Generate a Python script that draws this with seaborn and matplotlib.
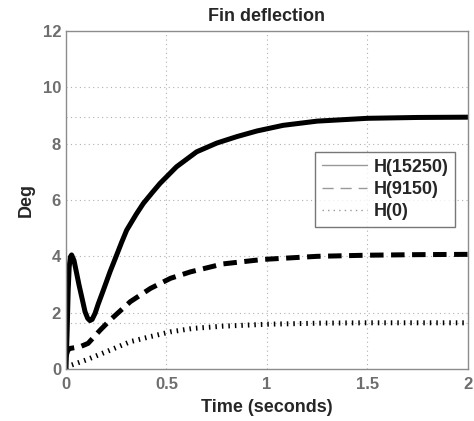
import numpy as np
import pandas as pd
import matplotlib.pyplot as plt
import seaborn as sns

# values
t_15250 = [0, 0.006, 0.011, 0.016, 0.022, 0.028, 0.04, 0.053, 0.065, 0.078, 0.095,
           0.108, 0.119, 0.13, 0.145, 0.16, 0.186, 0.219, 0.244, 0.277, 0.302, 0.35,
           0.385, 0.43, 0.468, 0.55, 0.65, 0.75, 0.85, 0.95, 1.08, 1.25, 1.5, 1.75, 2.0]
h_15250 = [0, 1.4, 2.8, 3.63, 3.98, 4.05, 3.85, 3.4, 2.98, 2.57, 2.03,
           1.8, 1.72, 1.76, 1.98, 2.3, 2.8, 3.45, 3.9, 4.5, 4.93, 5.5,
           5.88, 6.27, 6.59, 7.18, 7.71, 8.02, 8.25, 8.45, 8.65, 8.8, 8.9, 8.93, 8.94]

t_9150 = [0, 0.01, 0.02, 0.07, 0.11, 0.17, 0.22, 0.32, 0.42, 0.52, 0.62, 0.78,
          0.98, 1.25, 1.5, 1.75, 2.0]
h_9150 = [0.45, 0.68, 0.73, 0.79, 0.91, 1.38, 1.74, 2.39, 2.86, 3.22, 3.45, 3.73,
          3.89, 4.0, 4.04, 4.06, 4.07]

t_0 = [0, 0.011, 0.1, 0.22, 0.32, 0.42, 0.52, 0.63, 0.78, 1.0, 1.28, 1.5, 2.0]
h_0 = [0.05, 0.1, 0.32, 0.67, 0.97, 1.15, 1.32, 1.44, 1.52, 1.59, 1.63, 1.64, 1.64]

names = ['H(15250)', 'H(9150)', 'H(0)']
final_lines = [8.93, 1.64]

df = pd.concat([
    pd.DataFrame({'t': t_15250, 'deg': h_15250, 'series': names[0]}),
    pd.DataFrame({'t': t_9150, 'deg': h_9150, 'series': names[1]}),
    pd.DataFrame({'t': t_0, 'deg': h_0, 'series': names[2]}),
])

sns.set_style('white')
plt.rcParams['font.family'] = ['Liberation Sans', 'DejaVu Sans']
plt.rcParams['font.weight'] = 'bold'

fig, ax = plt.subplots(figsize=(4.74, 4.21), dpi=100)
fig.subplots_adjust(left=0.1392, right=0.9873, top=0.9264, bottom=0.1235)

grey = '#8c8c8c'
grid_kw = dict(color='#b0b0b0', lw=0.8, ls=(0, (1, 3)), zorder=0)

sns.lineplot(data=df, x='t', y='deg', hue='series', style='series',
             hue_order=names, style_order=names,
             palette=['black'] * 3,
             dashes={names[0]: '', names[1]: (2.7, 1.5), names[2]: (0.3, 1.0)},
             linewidth=3.6, sort=False, estimator=None, legend=False, ax=ax)
for ln in ax.lines:
    ln.set_solid_joinstyle('round')
    ln.set_dash_joinstyle('round')

ax.set_xlim(0, 2)
ax.set_ylim(0, 12)
ax.set_xticks([0, 0.5, 1, 1.5, 2])
ax.set_xticklabels(['0', '0.5', '1', '1.5', '2'])
ax.set_yticks(range(0, 13, 2))

for v in [0.5, 1, 1.5]:
    ax.axvline(v, **grid_kw)
for v in list(range(2, 12, 2)) + final_lines:
    ax.axhline(v, **grid_kw)

for s in ax.spines.values():
    s.set_color(grey)
    s.set_linewidth(1)

ax.tick_params(length=0, labelsize=12, labelcolor='#6e6e6e')
ax.tick_params(axis='x', pad=6)
ax.tick_params(axis='y', pad=3.5)
for lab in ax.get_xticklabels() + ax.get_yticklabels():
    lab.set_fontweight('bold')

ax.set_title('Fin deflection', fontsize=13, fontweight='bold', pad=7)
ax.set_xlabel('Time (seconds)', fontsize=13, fontweight='bold', labelpad=5)
ax.set_ylabel('Deg', fontsize=13, fontweight='bold', labelpad=6)

leg = ax.legend(ax.lines[:3], names, loc='upper right',
                bbox_to_anchor=(0.968, 0.641), fontsize=13,
                frameon=True, fancybox=False, handlelength=2.5,
                handletextpad=0.4, labelspacing=0.3, borderpad=0.35,
                borderaxespad=0)
leg.get_frame().set_edgecolor('#555555')
leg.get_frame().set_linewidth(1)
leg_styles = ['-', (0, (8, 5)), (0, (1, 3))]
for ln, st in zip(leg.get_lines(), leg_styles):
    ln.set_color('#999999')
    ln.set_linewidth(1)
    ln.set_linestyle(st)
for txt in leg.get_texts():
    txt.set_fontweight('bold')

plt.savefig('out.png')
